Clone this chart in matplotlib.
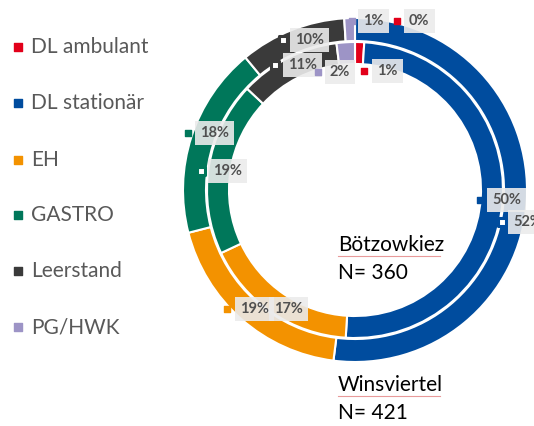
import matplotlib.pyplot as plt

plt.rcParams['font.family'] = ['Lato', 'DejaVu Sans']

# data
categories = ['DL ambulant', 'DL stationär', 'EH', 'GASTRO', 'Leerstand', 'PG/HWK']
colors = ['#E2001A', '#004C9E', '#F39200', '#00775A', '#3A3A3A', '#9D94C6']
winsviertel = [0, 52, 19, 18, 10, 1]   # outer ring, N=421
boetzowkiez = [1, 50, 17, 19, 11, 2]   # inner ring, N=360

W, H = 534, 426
fig = plt.figure(figsize=(W / 100, H / 100), dpi=100)
ax = fig.add_axes([0, 0, 1, 1])

def py(y):
    return H - y

cx, cy = 355, py(190)
ax.pie(winsviertel, radius=172, center=(cx, cy), colors=colors, startangle=90,
       counterclock=False, wedgeprops=dict(width=23, edgecolor='white', linewidth=1.5))
ax.pie(boetzowkiez, radius=148, center=(cx, cy), colors=colors, startangle=90,
       counterclock=False, wedgeprops=dict(width=22, edgecolor='white', linewidth=1.5))
ax.set_xlim(0, W)
ax.set_ylim(0, H)
ax.set_aspect('auto')
ax.axis('off')

txt_col = '#505050'

# data labels: (category index, ring values, marker pos, text x, filled marker)
labels = [
    (5, winsviertel, (352, 21), 363, True),
    (0, winsviertel, (397, 21), 409, True),
    (4, winsviertel, (283, 40), 295, False),
    (4, boetzowkiez, (275, 65), 288, False),
    (5, boetzowkiez, (318, 72), 330, True),
    (0, boetzowkiez, (364, 71), 377, True),
    (3, winsviertel, (188, 133), 200, True),
    (3, boetzowkiez, (201, 171), 213, False),
    (2, winsviertel, (227, 309), 240, True),
    (2, boetzowkiez, None, 274, True),
    (1, boetzowkiez, (480, 200), 492, True),
    (1, winsviertel, (502, 222), 513, False),
]
for i, vals, mpos, tx, filled in labels:
    ty = mpos[1] if mpos else 309
    ax.text(tx, py(ty), f'{vals[i]}%', fontsize=10.5, fontweight='bold', color=txt_col,
            ha='left', va='center', zorder=5,
            bbox=dict(boxstyle='square,pad=0.35', facecolor='#EBEBEB', edgecolor='none', alpha=0.9))
    if mpos:
        ax.scatter(mpos[0], py(mpos[1]), marker='s', s=30 if not filled else 24, zorder=6,
                   facecolor=colors[i] if filled else 'white',
                   edgecolor=colors[i], linewidths=2.2 if not filled else 1)

# legend
leg_y = [47, 103, 160, 215, 271, 327]
for cat, col, y in zip(categories, colors, leg_y):
    ax.scatter(18, py(y), marker='s', s=40, color=col)
    ax.text(31, py(y), cat, fontsize=15, color='#595959', ha='left', va='center')

# ring captions
ax.text(338, py(245), 'Bötzowkiez', fontsize=15, color='black', ha='left', va='center')
ax.text(338, py(273), 'N= 360', fontsize=15, color='black', ha='left', va='center')
ax.text(338, py(385), 'Winsviertel', fontsize=15, color='black', ha='left', va='center')
ax.text(338, py(413), 'N= 421', fontsize=15, color='black', ha='left', va='center')
ax.plot([338, 440], [py(256), py(256)], color='#E89A9A', linewidth=0.8)
ax.plot([338, 440], [py(396), py(396)], color='#E89A9A', linewidth=0.8)

fig.savefig('out.png', dpi=100)
